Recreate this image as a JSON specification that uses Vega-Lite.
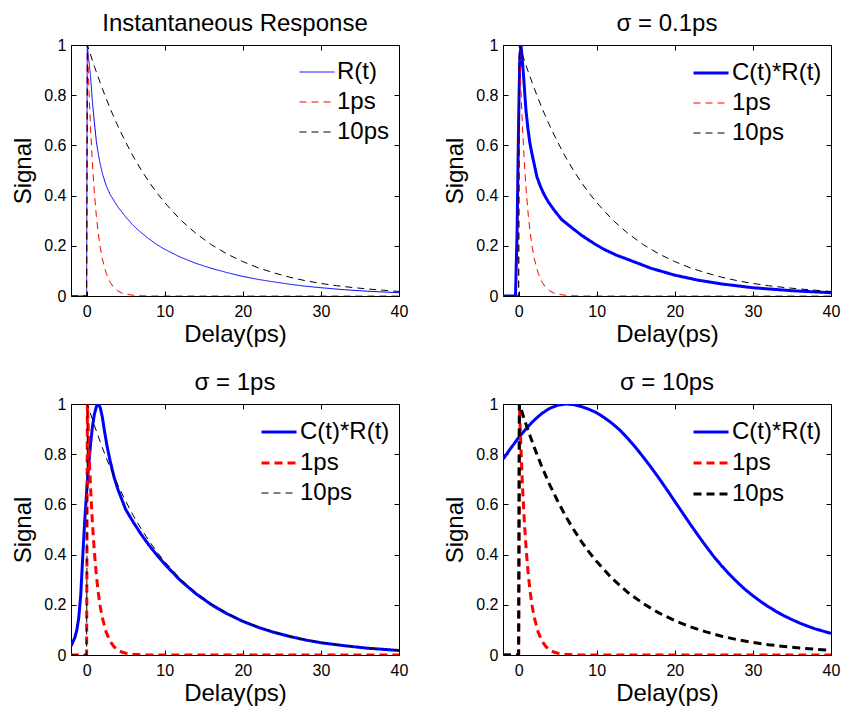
{
  "$schema": "https://vega.github.io/schema/vega-lite/v6.json",
  "background": "white",
  "padding": {"left": 11, "top": 11, "right": 5, "bottom": 5},
  "datasets": {
    "ref": [
      {"s": "1ps", "t": -2, "v": 0}, {"s": "1ps", "t": 0, "v": 0}, {"s": "1ps", "t": 0.1, "v": 1},
      {"s": "1ps", "t": 0.3, "v": 0.819}, {"s": "1ps", "t": 0.5, "v": 0.67}, {"s": "1ps", "t": 0.75, "v": 0.522},
      {"s": "1ps", "t": 1, "v": 0.407}, {"s": "1ps", "t": 1.25, "v": 0.317}, {"s": "1ps", "t": 1.5, "v": 0.247},
      {"s": "1ps", "t": 1.75, "v": 0.192}, {"s": "1ps", "t": 2, "v": 0.15}, {"s": "1ps", "t": 2.5, "v": 0.091},
      {"s": "1ps", "t": 3, "v": 0.055}, {"s": "1ps", "t": 3.5, "v": 0.033}, {"s": "1ps", "t": 4, "v": 0.02},
      {"s": "1ps", "t": 4.5, "v": 0.012}, {"s": "1ps", "t": 5, "v": 0.007}, {"s": "1ps", "t": 6, "v": 0.003},
      {"s": "1ps", "t": 7, "v": 0.001}, {"s": "1ps", "t": 8, "v": 0}, {"s": "1ps", "t": 40, "v": 0},
      {"s": "10ps", "t": -2, "v": 0}, {"s": "10ps", "t": 0, "v": 0}, {"s": "10ps", "t": 0.1, "v": 1},
      {"s": "10ps", "t": 1, "v": 0.914}, {"s": "10ps", "t": 2, "v": 0.827}, {"s": "10ps", "t": 3, "v": 0.748},
      {"s": "10ps", "t": 4, "v": 0.677}, {"s": "10ps", "t": 5, "v": 0.613}, {"s": "10ps", "t": 6, "v": 0.554},
      {"s": "10ps", "t": 7, "v": 0.502}, {"s": "10ps", "t": 8, "v": 0.454}, {"s": "10ps", "t": 9, "v": 0.411},
      {"s": "10ps", "t": 10, "v": 0.372}, {"s": "10ps", "t": 12, "v": 0.304}, {"s": "10ps", "t": 14, "v": 0.249},
      {"s": "10ps", "t": 16, "v": 0.204}, {"s": "10ps", "t": 18, "v": 0.167}, {"s": "10ps", "t": 20, "v": 0.137},
      {"s": "10ps", "t": 22, "v": 0.112}, {"s": "10ps", "t": 24, "v": 0.092}, {"s": "10ps", "t": 26, "v": 0.075},
      {"s": "10ps", "t": 28, "v": 0.061}, {"s": "10ps", "t": 30, "v": 0.05}, {"s": "10ps", "t": 32, "v": 0.041},
      {"s": "10ps", "t": 34, "v": 0.034}, {"s": "10ps", "t": 36, "v": 0.028}, {"s": "10ps", "t": 38, "v": 0.023},
      {"s": "10ps", "t": 40, "v": 0.018}
    ],
    "p1": [
      {"s": "R(t)", "t": -2, "v": 0}, {"s": "R(t)", "t": 0, "v": 0}, {"s": "R(t)", "t": 0.08, "v": 1},
      {"s": "R(t)", "t": 0.25, "v": 0.95}, {"s": "R(t)", "t": 0.5, "v": 0.874}, {"s": "R(t)", "t": 0.75, "v": 0.77},
      {"s": "R(t)", "t": 1, "v": 0.69}, {"s": "R(t)", "t": 1.25, "v": 0.615}, {"s": "R(t)", "t": 1.5, "v": 0.565},
      {"s": "R(t)", "t": 1.75, "v": 0.525}, {"s": "R(t)", "t": 2, "v": 0.49}, {"s": "R(t)", "t": 2.5, "v": 0.44},
      {"s": "R(t)", "t": 3, "v": 0.405}, {"s": "R(t)", "t": 3.5, "v": 0.38}, {"s": "R(t)", "t": 4, "v": 0.355},
      {"s": "R(t)", "t": 5, "v": 0.315}, {"s": "R(t)", "t": 6, "v": 0.28}, {"s": "R(t)", "t": 7, "v": 0.252},
      {"s": "R(t)", "t": 8, "v": 0.227}, {"s": "R(t)", "t": 9, "v": 0.205}, {"s": "R(t)", "t": 10, "v": 0.186},
      {"s": "R(t)", "t": 12, "v": 0.155}, {"s": "R(t)", "t": 14, "v": 0.13}, {"s": "R(t)", "t": 16, "v": 0.11},
      {"s": "R(t)", "t": 18, "v": 0.093}, {"s": "R(t)", "t": 20, "v": 0.078}, {"s": "R(t)", "t": 22, "v": 0.066},
      {"s": "R(t)", "t": 24, "v": 0.056}, {"s": "R(t)", "t": 26, "v": 0.047}, {"s": "R(t)", "t": 28, "v": 0.039},
      {"s": "R(t)", "t": 30, "v": 0.033}, {"s": "R(t)", "t": 33, "v": 0.025}, {"s": "R(t)", "t": 36, "v": 0.019},
      {"s": "R(t)", "t": 40, "v": 0.013}
    ],
    "p2": [
      {"s": "C(t)*R(t)", "t": -2, "v": 0}, {"s": "C(t)*R(t)", "t": -0.4, "v": 0}, {"s": "C(t)*R(t)", "t": -0.2, "v": 0.25},
      {"s": "C(t)*R(t)", "t": 0, "v": 0.7}, {"s": "C(t)*R(t)", "t": 0.15, "v": 0.95}, {"s": "C(t)*R(t)", "t": 0.3, "v": 1},
      {"s": "C(t)*R(t)", "t": 0.45, "v": 0.95}, {"s": "C(t)*R(t)", "t": 0.64, "v": 0.874}, {"s": "C(t)*R(t)", "t": 0.8, "v": 0.8},
      {"s": "C(t)*R(t)", "t": 0.94, "v": 0.74}, {"s": "C(t)*R(t)", "t": 1.2, "v": 0.665}, {"s": "C(t)*R(t)", "t": 1.45, "v": 0.608},
      {"s": "C(t)*R(t)", "t": 1.75, "v": 0.56}, {"s": "C(t)*R(t)", "t": 2, "v": 0.525}, {"s": "C(t)*R(t)", "t": 2.34, "v": 0.475},
      {"s": "C(t)*R(t)", "t": 2.75, "v": 0.44}, {"s": "C(t)*R(t)", "t": 3.2, "v": 0.408}, {"s": "C(t)*R(t)", "t": 3.8, "v": 0.375},
      {"s": "C(t)*R(t)", "t": 4.55, "v": 0.342}, {"s": "C(t)*R(t)", "t": 5.5, "v": 0.305}, {"s": "C(t)*R(t)", "t": 6.7, "v": 0.275},
      {"s": "C(t)*R(t)", "t": 8, "v": 0.243}, {"s": "C(t)*R(t)", "t": 9.66, "v": 0.209}, {"s": "C(t)*R(t)", "t": 11, "v": 0.185},
      {"s": "C(t)*R(t)", "t": 12.5, "v": 0.163}, {"s": "C(t)*R(t)", "t": 14.3, "v": 0.142}, {"s": "C(t)*R(t)", "t": 17, "v": 0.11},
      {"s": "C(t)*R(t)", "t": 20, "v": 0.083}, {"s": "C(t)*R(t)", "t": 23, "v": 0.063}, {"s": "C(t)*R(t)", "t": 26, "v": 0.048},
      {"s": "C(t)*R(t)", "t": 30, "v": 0.033}, {"s": "C(t)*R(t)", "t": 35, "v": 0.021}, {"s": "C(t)*R(t)", "t": 40, "v": 0.013}
    ],
    "p3": [
      {"s": "C(t)*R(t)", "t": -2, "v": 0.035}, {"s": "C(t)*R(t)", "t": -1.5, "v": 0.07}, {"s": "C(t)*R(t)", "t": -1.25, "v": 0.1},
      {"s": "C(t)*R(t)", "t": -1, "v": 0.15}, {"s": "C(t)*R(t)", "t": -0.75, "v": 0.24}, {"s": "C(t)*R(t)", "t": -0.5, "v": 0.39},
      {"s": "C(t)*R(t)", "t": -0.25, "v": 0.53}, {"s": "C(t)*R(t)", "t": 0, "v": 0.65}, {"s": "C(t)*R(t)", "t": 0.25, "v": 0.75},
      {"s": "C(t)*R(t)", "t": 0.5, "v": 0.84}, {"s": "C(t)*R(t)", "t": 0.75, "v": 0.91}, {"s": "C(t)*R(t)", "t": 1, "v": 0.96},
      {"s": "C(t)*R(t)", "t": 1.25, "v": 0.99}, {"s": "C(t)*R(t)", "t": 1.5, "v": 1}, {"s": "C(t)*R(t)", "t": 1.75, "v": 0.985},
      {"s": "C(t)*R(t)", "t": 2, "v": 0.95}, {"s": "C(t)*R(t)", "t": 2.3, "v": 0.89}, {"s": "C(t)*R(t)", "t": 2.6, "v": 0.835},
      {"s": "C(t)*R(t)", "t": 3, "v": 0.775}, {"s": "C(t)*R(t)", "t": 3.5, "v": 0.71}, {"s": "C(t)*R(t)", "t": 4, "v": 0.66},
      {"s": "C(t)*R(t)", "t": 5, "v": 0.58}, {"s": "C(t)*R(t)", "t": 6, "v": 0.528}, {"s": "C(t)*R(t)", "t": 7, "v": 0.48},
      {"s": "C(t)*R(t)", "t": 8, "v": 0.437}, {"s": "C(t)*R(t)", "t": 9, "v": 0.398}, {"s": "C(t)*R(t)", "t": 10, "v": 0.362},
      {"s": "C(t)*R(t)", "t": 12, "v": 0.297}, {"s": "C(t)*R(t)", "t": 14, "v": 0.244}, {"s": "C(t)*R(t)", "t": 16, "v": 0.2},
      {"s": "C(t)*R(t)", "t": 18, "v": 0.164}, {"s": "C(t)*R(t)", "t": 20, "v": 0.134}, {"s": "C(t)*R(t)", "t": 22, "v": 0.11},
      {"s": "C(t)*R(t)", "t": 24, "v": 0.09}, {"s": "C(t)*R(t)", "t": 26, "v": 0.074}, {"s": "C(t)*R(t)", "t": 28, "v": 0.06},
      {"s": "C(t)*R(t)", "t": 30, "v": 0.049}, {"s": "C(t)*R(t)", "t": 33, "v": 0.037}, {"s": "C(t)*R(t)", "t": 36, "v": 0.027},
      {"s": "C(t)*R(t)", "t": 40, "v": 0.018}
    ],
    "p4": [
      {"s": "C(t)*R(t)", "t": -2, "v": 0.78}, {"s": "C(t)*R(t)", "t": -1, "v": 0.824}, {"s": "C(t)*R(t)", "t": 0, "v": 0.866},
      {"s": "C(t)*R(t)", "t": 1, "v": 0.903}, {"s": "C(t)*R(t)", "t": 2, "v": 0.936}, {"s": "C(t)*R(t)", "t": 3, "v": 0.963},
      {"s": "C(t)*R(t)", "t": 4, "v": 0.983}, {"s": "C(t)*R(t)", "t": 5, "v": 0.995}, {"s": "C(t)*R(t)", "t": 6, "v": 1},
      {"s": "C(t)*R(t)", "t": 7, "v": 0.998}, {"s": "C(t)*R(t)", "t": 8, "v": 0.99}, {"s": "C(t)*R(t)", "t": 9, "v": 0.979},
      {"s": "C(t)*R(t)", "t": 10, "v": 0.965}, {"s": "C(t)*R(t)", "t": 11, "v": 0.945}, {"s": "C(t)*R(t)", "t": 12, "v": 0.922},
      {"s": "C(t)*R(t)", "t": 13, "v": 0.895}, {"s": "C(t)*R(t)", "t": 14, "v": 0.862}, {"s": "C(t)*R(t)", "t": 15, "v": 0.826},
      {"s": "C(t)*R(t)", "t": 16, "v": 0.787}, {"s": "C(t)*R(t)", "t": 17, "v": 0.746}, {"s": "C(t)*R(t)", "t": 18, "v": 0.703},
      {"s": "C(t)*R(t)", "t": 19, "v": 0.658}, {"s": "C(t)*R(t)", "t": 20, "v": 0.612}, {"s": "C(t)*R(t)", "t": 21, "v": 0.566},
      {"s": "C(t)*R(t)", "t": 22, "v": 0.52}, {"s": "C(t)*R(t)", "t": 23, "v": 0.476}, {"s": "C(t)*R(t)", "t": 24, "v": 0.433},
      {"s": "C(t)*R(t)", "t": 25, "v": 0.392}, {"s": "C(t)*R(t)", "t": 26, "v": 0.355}, {"s": "C(t)*R(t)", "t": 27, "v": 0.321},
      {"s": "C(t)*R(t)", "t": 28, "v": 0.29}, {"s": "C(t)*R(t)", "t": 29, "v": 0.261}, {"s": "C(t)*R(t)", "t": 30, "v": 0.236},
      {"s": "C(t)*R(t)", "t": 31, "v": 0.213}, {"s": "C(t)*R(t)", "t": 32, "v": 0.192}, {"s": "C(t)*R(t)", "t": 33, "v": 0.173},
      {"s": "C(t)*R(t)", "t": 34, "v": 0.156}, {"s": "C(t)*R(t)", "t": 35, "v": 0.141}, {"s": "C(t)*R(t)", "t": 36, "v": 0.127},
      {"s": "C(t)*R(t)", "t": 37, "v": 0.115}, {"s": "C(t)*R(t)", "t": 38, "v": 0.104}, {"s": "C(t)*R(t)", "t": 39, "v": 0.095},
      {"s": "C(t)*R(t)", "t": 40, "v": 0.086}
    ]
  },
  "columns": 2,
  "spacing": {"row": 108, "column": 104},
  "bounds": "flush",
  "resolve": {
    "scale": {"color": "independent", "strokeDash": "independent", "strokeWidth": "independent"},
    "legend": {"color": "independent", "strokeDash": "independent", "strokeWidth": "independent"}
  },
  "concat": [
    {
      "width": 328, "height": 251,
      "title": "Instantaneous Response",
      "layer": [
        {
          "data": {"name": "p1"},
          "mark": {"type": "line", "clip": true},
          "encoding": {
            "x": {"field": "t", "type": "quantitative", "scale": {"domain": [-2, 40], "nice": false, "zero": false}, "axis": {"values": [0, 10, 20, 30, 40], "title": "Delay(ps)"}},
            "y": {"field": "v", "type": "quantitative", "scale": {"domain": [0, 1], "nice": false}, "axis": {"values": [0, 0.2, 0.4, 0.6, 0.8, 1], "format": "~g", "title": "Signal"}},
            "color": {"field": "s", "type": "nominal", "scale": {"domain": ["R(t)", "1ps", "10ps"], "range": ["#0000ff", "#ff0000", "#000000"]}, "legend": {"title": null}},
            "strokeDash": {"field": "s", "type": "nominal", "scale": {"domain": ["R(t)", "1ps", "10ps"], "range": [[1, 0], [7, 5], [7, 5]]}, "legend": {"title": null}},
            "strokeWidth": {"field": "s", "type": "nominal", "scale": {"type": "ordinal", "domain": ["R(t)", "1ps", "10ps"], "range": [1, 1, 1]}, "legend": {"title": null}}
          }
        },
        {
          "data": {"name": "ref"},
          "mark": {"type": "line", "clip": true},
          "encoding": {
            "x": {"field": "t", "type": "quantitative", "scale": {"domain": [-2, 40], "nice": false, "zero": false}, "axis": null},
            "y": {"field": "v", "type": "quantitative", "scale": {"domain": [0, 1], "nice": false}, "axis": null},
            "color": {"field": "s", "type": "nominal", "scale": {"domain": ["R(t)", "1ps", "10ps"], "range": ["#0000ff", "#ff0000", "#000000"]}, "legend": {"title": null}},
            "strokeDash": {"field": "s", "type": "nominal", "scale": {"domain": ["R(t)", "1ps", "10ps"], "range": [[1, 0], [7, 5], [7, 5]]}, "legend": {"title": null}},
            "strokeWidth": {"field": "s", "type": "nominal", "scale": {"type": "ordinal", "domain": ["R(t)", "1ps", "10ps"], "range": [1, 1, 1]}, "legend": {"title": null}}
          }
        },
        {
          "data": {"name": "ref"},
          "mark": {"type": "point", "opacity": 0},
          "encoding": {
            "x": {"field": "t", "type": "quantitative", "scale": {"domain": [-2, 40], "nice": false, "zero": false}, "axis": {"orient": "top", "labels": false, "title": null, "values": [0, 10, 20, 30, 40]}},
            "y": {"field": "v", "type": "quantitative", "scale": {"domain": [0, 1], "nice": false}, "axis": {"orient": "right", "labels": false, "title": null, "values": [0, 0.2, 0.4, 0.6, 0.8, 1]}}
          }
        }
      ],
      "resolve": {"axis": {"x": "independent", "y": "independent"}}
    },
    {
      "width": 328, "height": 251,
      "title": "σ = 0.1ps",
      "layer": [
        {
          "data": {"name": "p2"},
          "mark": {"type": "line", "clip": true},
          "encoding": {
            "x": {"field": "t", "type": "quantitative", "scale": {"domain": [-2, 40], "nice": false, "zero": false}, "axis": {"values": [0, 10, 20, 30, 40], "title": "Delay(ps)"}},
            "y": {"field": "v", "type": "quantitative", "scale": {"domain": [0, 1], "nice": false}, "axis": {"values": [0, 0.2, 0.4, 0.6, 0.8, 1], "format": "~g", "title": "Signal"}},
            "color": {"field": "s", "type": "nominal", "scale": {"domain": ["C(t)*R(t)", "1ps", "10ps"], "range": ["#0000ff", "#ff0000", "#000000"]}, "legend": {"title": null}},
            "strokeDash": {"field": "s", "type": "nominal", "scale": {"domain": ["C(t)*R(t)", "1ps", "10ps"], "range": [[1, 0], [7, 5], [7, 5]]}, "legend": {"title": null}},
            "strokeWidth": {"field": "s", "type": "nominal", "scale": {"type": "ordinal", "domain": ["C(t)*R(t)", "1ps", "10ps"], "range": [3, 1, 1]}, "legend": {"title": null}}
          }
        },
        {
          "data": {"name": "ref"},
          "mark": {"type": "line", "clip": true},
          "encoding": {
            "x": {"field": "t", "type": "quantitative", "scale": {"domain": [-2, 40], "nice": false, "zero": false}, "axis": null},
            "y": {"field": "v", "type": "quantitative", "scale": {"domain": [0, 1], "nice": false}, "axis": null},
            "color": {"field": "s", "type": "nominal", "scale": {"domain": ["C(t)*R(t)", "1ps", "10ps"], "range": ["#0000ff", "#ff0000", "#000000"]}, "legend": {"title": null}},
            "strokeDash": {"field": "s", "type": "nominal", "scale": {"domain": ["C(t)*R(t)", "1ps", "10ps"], "range": [[1, 0], [7, 5], [7, 5]]}, "legend": {"title": null}},
            "strokeWidth": {"field": "s", "type": "nominal", "scale": {"type": "ordinal", "domain": ["C(t)*R(t)", "1ps", "10ps"], "range": [3, 1, 1]}, "legend": {"title": null}}
          }
        },
        {
          "data": {"name": "ref"},
          "mark": {"type": "point", "opacity": 0},
          "encoding": {
            "x": {"field": "t", "type": "quantitative", "scale": {"domain": [-2, 40], "nice": false, "zero": false}, "axis": {"orient": "top", "labels": false, "title": null, "values": [0, 10, 20, 30, 40]}},
            "y": {"field": "v", "type": "quantitative", "scale": {"domain": [0, 1], "nice": false}, "axis": {"orient": "right", "labels": false, "title": null, "values": [0, 0.2, 0.4, 0.6, 0.8, 1]}}
          }
        }
      ],
      "resolve": {"axis": {"x": "independent", "y": "independent"}}
    },
    {
      "width": 328, "height": 251,
      "title": "σ = 1ps",
      "layer": [
        {
          "data": {"name": "p3"},
          "mark": {"type": "line", "clip": true},
          "encoding": {
            "x": {"field": "t", "type": "quantitative", "scale": {"domain": [-2, 40], "nice": false, "zero": false}, "axis": {"values": [0, 10, 20, 30, 40], "title": "Delay(ps)"}},
            "y": {"field": "v", "type": "quantitative", "scale": {"domain": [0, 1], "nice": false}, "axis": {"values": [0, 0.2, 0.4, 0.6, 0.8, 1], "format": "~g", "title": "Signal"}},
            "color": {"field": "s", "type": "nominal", "scale": {"domain": ["C(t)*R(t)", "1ps", "10ps"], "range": ["#0000ff", "#ff0000", "#000000"]}, "legend": {"title": null}},
            "strokeDash": {"field": "s", "type": "nominal", "scale": {"domain": ["C(t)*R(t)", "1ps", "10ps"], "range": [[1, 0], [8, 5], [7, 5]]}, "legend": {"title": null}},
            "strokeWidth": {"field": "s", "type": "nominal", "scale": {"type": "ordinal", "domain": ["C(t)*R(t)", "1ps", "10ps"], "range": [3, 3, 1]}, "legend": {"title": null}}
          }
        },
        {
          "data": {"name": "ref"},
          "mark": {"type": "line", "clip": true},
          "encoding": {
            "x": {"field": "t", "type": "quantitative", "scale": {"domain": [-2, 40], "nice": false, "zero": false}, "axis": null},
            "y": {"field": "v", "type": "quantitative", "scale": {"domain": [0, 1], "nice": false}, "axis": null},
            "color": {"field": "s", "type": "nominal", "scale": {"domain": ["C(t)*R(t)", "1ps", "10ps"], "range": ["#0000ff", "#ff0000", "#000000"]}, "legend": {"title": null}},
            "strokeDash": {"field": "s", "type": "nominal", "scale": {"domain": ["C(t)*R(t)", "1ps", "10ps"], "range": [[1, 0], [8, 5], [7, 5]]}, "legend": {"title": null}},
            "strokeWidth": {"field": "s", "type": "nominal", "scale": {"type": "ordinal", "domain": ["C(t)*R(t)", "1ps", "10ps"], "range": [3, 3, 1]}, "legend": {"title": null}}
          }
        },
        {
          "data": {"name": "ref"},
          "mark": {"type": "point", "opacity": 0},
          "encoding": {
            "x": {"field": "t", "type": "quantitative", "scale": {"domain": [-2, 40], "nice": false, "zero": false}, "axis": {"orient": "top", "labels": false, "title": null, "values": [0, 10, 20, 30, 40]}},
            "y": {"field": "v", "type": "quantitative", "scale": {"domain": [0, 1], "nice": false}, "axis": {"orient": "right", "labels": false, "title": null, "values": [0, 0.2, 0.4, 0.6, 0.8, 1]}}
          }
        }
      ],
      "resolve": {"axis": {"x": "independent", "y": "independent"}}
    },
    {
      "width": 328, "height": 251,
      "title": "σ = 10ps",
      "layer": [
        {
          "data": {"name": "p4"},
          "mark": {"type": "line", "clip": true},
          "encoding": {
            "x": {"field": "t", "type": "quantitative", "scale": {"domain": [-2, 40], "nice": false, "zero": false}, "axis": {"values": [0, 10, 20, 30, 40], "title": "Delay(ps)"}},
            "y": {"field": "v", "type": "quantitative", "scale": {"domain": [0, 1], "nice": false}, "axis": {"values": [0, 0.2, 0.4, 0.6, 0.8, 1], "format": "~g", "title": "Signal"}},
            "color": {"field": "s", "type": "nominal", "scale": {"domain": ["C(t)*R(t)", "1ps", "10ps"], "range": ["#0000ff", "#ff0000", "#000000"]}, "legend": {"title": null}},
            "strokeDash": {"field": "s", "type": "nominal", "scale": {"domain": ["C(t)*R(t)", "1ps", "10ps"], "range": [[1, 0], [8, 5], [8, 5]]}, "legend": {"title": null}},
            "strokeWidth": {"field": "s", "type": "nominal", "scale": {"type": "ordinal", "domain": ["C(t)*R(t)", "1ps", "10ps"], "range": [3, 3, 3]}, "legend": {"title": null}}
          }
        },
        {
          "data": {"name": "ref"},
          "mark": {"type": "line", "clip": true},
          "encoding": {
            "x": {"field": "t", "type": "quantitative", "scale": {"domain": [-2, 40], "nice": false, "zero": false}, "axis": null},
            "y": {"field": "v", "type": "quantitative", "scale": {"domain": [0, 1], "nice": false}, "axis": null},
            "color": {"field": "s", "type": "nominal", "scale": {"domain": ["C(t)*R(t)", "1ps", "10ps"], "range": ["#0000ff", "#ff0000", "#000000"]}, "legend": {"title": null}},
            "strokeDash": {"field": "s", "type": "nominal", "scale": {"domain": ["C(t)*R(t)", "1ps", "10ps"], "range": [[1, 0], [8, 5], [8, 5]]}, "legend": {"title": null}},
            "strokeWidth": {"field": "s", "type": "nominal", "scale": {"type": "ordinal", "domain": ["C(t)*R(t)", "1ps", "10ps"], "range": [3, 3, 3]}, "legend": {"title": null}}
          }
        },
        {
          "data": {"name": "ref"},
          "mark": {"type": "point", "opacity": 0},
          "encoding": {
            "x": {"field": "t", "type": "quantitative", "scale": {"domain": [-2, 40], "nice": false, "zero": false}, "axis": {"orient": "top", "labels": false, "title": null, "values": [0, 10, 20, 30, 40]}},
            "y": {"field": "v", "type": "quantitative", "scale": {"domain": [0, 1], "nice": false}, "axis": {"orient": "right", "labels": false, "title": null, "values": [0, 0.2, 0.4, 0.6, 0.8, 1]}}
          }
        }
      ],
      "resolve": {"axis": {"x": "independent", "y": "independent"}}
    }
  ],
  "config": {
    "font": "Liberation Sans",
    "view": {"stroke": "#000000", "strokeWidth": 1},
    "axis": {
      "grid": false, "domain": false, "tickSize": -5, "tickColor": "#000000", "tickWidth": 1,
      "labelColor": "#000000", "labelFontSize": 16, "labelFont": "Liberation Sans", "labelFlush": false,
      "titleFont": "Liberation Sans", "titleFontSize": 24, "titleFontWeight": "normal", "titleColor": "#000000"
    },
    "axisX": {"labelPadding": 12, "titlePadding": 3},
    "axisY": {"labelPadding": 10, "titlePadding": 8},
    "legend": {
      "orient": "top-right", "offset": 9, "padding": 0, "symbolType": "stroke", "symbolSize": 1225,
      "labelFontSize": 24, "labelFont": "Liberation Sans", "labelColor": "#000000", "labelOffset": 2,
      "rowPadding": -8, "labelLimit": 300
    },
    "title": {"font": "Liberation Sans", "fontSize": 24, "fontWeight": "normal", "color": "#000000", "offset": 1}
  }
}
